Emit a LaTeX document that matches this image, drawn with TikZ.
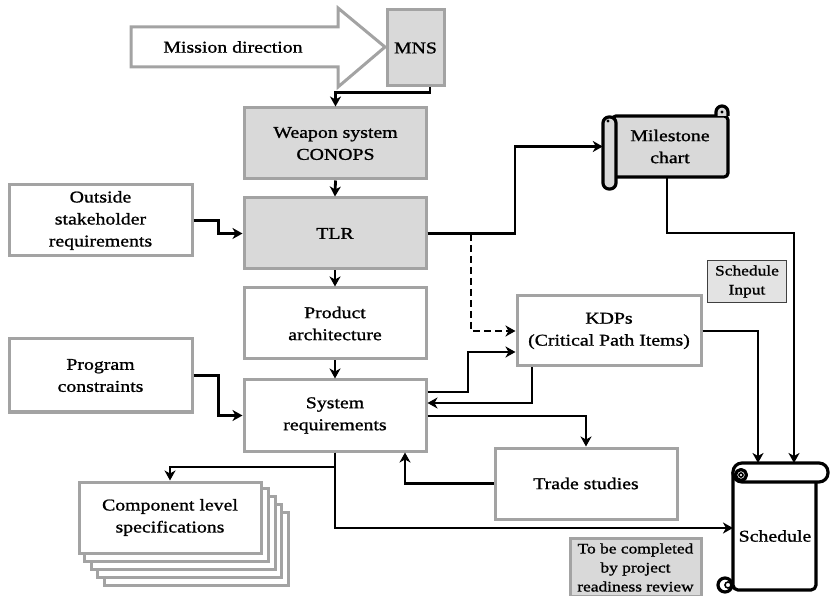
\documentclass[tikz,border=0pt]{standalone}
\usepackage{fontspec}
\setmainfont[FakeStretch=1.2,FakeBold=1.1]{Liberation Serif}
\usetikzlibrary{arrows.meta}
\definecolor{boxedge}{HTML}{A3A3A3}
\definecolor{boxfill}{HTML}{D9D9D9}
\definecolor{notefill}{HTML}{E3E3E3}
\newcommand\dgmain{\fontsize{16.5}{22}\selectfont}
\newcommand\dgsmall{\fontsize{14.5}{19}\selectfont}
\begin{document}
\begin{tikzpicture}[x=1pt,y=-1pt,
  box/.style={draw=boxedge,line width=3pt,fill=white,align=center,font=\dgmain,
    inner sep=0pt,minimum width=182pt,minimum height=71pt},
  graybox/.style={box,fill=boxfill},
  conn/.style={line width=2.8pt,-{Stealth[length=10pt,width=11pt,inset=3pt]}},
  scroll/.style={draw=black,line width=3.2pt,line join=round},
  label/.style={align=center,font=\dgmain,inner sep=0pt}
]
\useasboundingbox (0,0) rectangle (831,596);

% mission direction block arrow
\draw[draw=boxedge,line width=3pt,fill=white,line join=miter]
  (131,27) -- (338,27) -- (338,8) -- (385,47) -- (338,87) -- (338,67) -- (131,67) -- cycle;
\node[label] (mission) at (233,47) {Mission direction};

% main column
\node[graybox,minimum width=57pt,minimum height=76pt] (mns) at (415.5,48) {MNS};
\node[graybox] (weapon) at (335.5,143.5) {Weapon system\\CONOPS};
\node[graybox] (tlr) at (335,233.5) {TLR};
\node[box] (product) at (335,323.5) {Product\\architecture};
\node[box] (sysreq) at (335,415.5) {System\\requirements};

% side inputs
\node[box,minimum width=183pt] (outside) at (100.5,220.5) {Outside\\stakeholder\\requirements};
\node[box,minimum width=183pt,minimum height=73pt] (program) at (100.5,375.5) {Program\\constraints};

% right-hand boxes
\node[box,minimum width=184pt,minimum height=70pt] (kdp) at (609,331) {KDPs\\(Critical Path Items)};
\node[box] (trade) at (586,483.5) {Trade studies};

% stacked component specifications
\foreach \k in {4,3,2,1}
  \draw[draw=boxedge,line width=3pt,fill=white]
    ({78+6.5*\k},{481+7.75*\k}) rectangle ++(184,73);
\node[box] (comp) at (170,517.5) {Component level\\specifications};

% notes
\node[draw=black!75,line width=1.3pt,fill=notefill,align=center,font=\dgsmall,
  inner sep=0pt,minimum width=79pt,minimum height=42pt] (schedin) at (747,281.5) {Schedule\\Input};
\node[draw=boxedge,line width=3pt,fill=boxfill,align=center,font=\dgsmall,
  inner sep=0pt,minimum width=131pt,minimum height=58pt] (tbc) at (635.5,567.5)
  {To be completed\\by project\\readiness review};

% milestone chart scroll
\draw[scroll,fill=boxfill,rounded corners=4pt] (612,116) -- (728,116) -- (728,177) -- (612,177) -- cycle;
\draw[scroll,fill=boxfill] (716,116) -- (716,112) arc[start angle=180,end angle=360,radius=6] -- (728,116);
\fill (722,112) circle (1.6pt);
\draw[scroll,fill=boxfill,rounded corners=6pt] (603,117) rectangle (616,189);
\fill (608,121) circle (1.6pt);
\node[label,minimum width=112pt,minimum height=61pt] (milestone) at (670,146.5) {Milestone\\chart};

% schedule scroll
\draw[scroll,fill=white,rounded corners=5pt] (733,472) -- (733,590) -- (816,590) -- (816,476);
\draw[scroll,fill=white,rounded corners=9pt] (733,463) rectangle (828,482);
\draw[scroll,fill=white] (741,475) circle (5.5pt);
\draw[line width=1.6pt] (741,475) circle (2pt);
\draw[scroll,fill=white] (725,585) circle (7pt);
\draw[line width=1.6pt,fill=white] (728,585) circle (3pt);
\node[label,minimum width=83pt,minimum height=108pt] (schedule) at (775,536) {Schedule};
\coordinate (schedA) at (758,463);
\coordinate (schedB) at (794,463);
\coordinate (schedW) at (733,528);

% connectors down the main column
\draw[conn] ([xshift=14.5pt]mns.south) -- ++(0,5) -| (weapon.north);
\draw[conn] (weapon.south) -- (tlr.north);
\draw[conn] (tlr.south) -- (product.north);
\draw[conn] (product.south) -- (sysreq.north);
\draw[conn] (outside.east) -- ++(25,0) |- (tlr.west);
\draw[conn] (program.east) -- ++(25,0) |- (sysreq.west);

% TLR to milestone chart and KDPs
\draw[conn] (tlr.east) -- (515,233.5) |- ([xshift=-11pt]milestone.west);
\draw[conn,dash pattern=on 7pt off 4pt] (tlr.east) -- (471,233.5) |- (kdp.west);

% system requirements loops
\draw[conn] ([yshift=23.5pt]sysreq.east) -- (468,392) |- ([yshift=-21pt]kdp.west);
\draw[conn] ([xshift=-77pt]kdp.south) |- ([yshift=12.5pt]sysreq.east);
\draw[conn] ([yshift=-0.5pt]sysreq.east) -| (trade.north);
\draw[conn] (trade.west) -| ([xshift=70pt]sysreq.south);
\draw[conn] (sysreq.south) -- (335,467) -| (comp.north);
\draw[conn] (sysreq.south) |- (schedW);

% inputs to the schedule
\draw[conn] ([xshift=-3pt]milestone.south) -- (667,233) -| (schedB);
\draw[conn] (kdp.east) -| (schedA);
\end{tikzpicture}
\end{document}
